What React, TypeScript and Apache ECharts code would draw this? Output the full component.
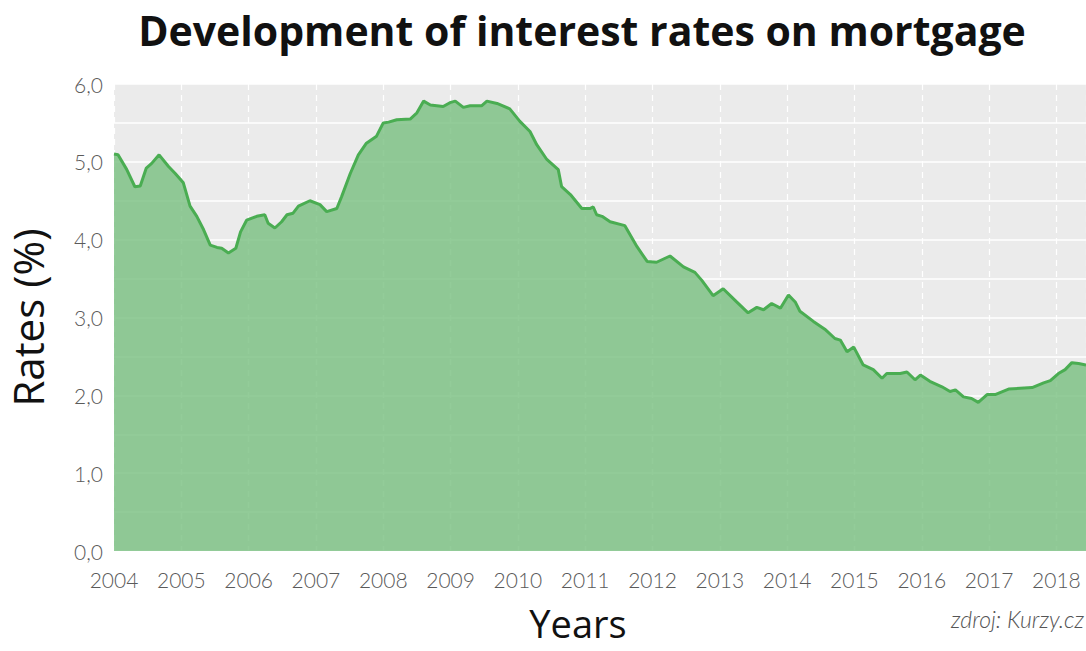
import React, { useEffect, useRef } from "react";
import * as echarts from "echarts";

// Vertices of the curve: decimal year and rate (%)
const years: number[] = [
  2004.0, 2004.06, 2004.19, 2004.31, 2004.39, 2004.48, 2004.56, 2004.67, 2004.81, 2004.91,
  2005.03, 2005.13, 2005.23, 2005.33, 2005.43, 2005.53, 2005.6, 2005.7, 2005.81, 2005.88,
  2005.97, 2006.12, 2006.24, 2006.29, 2006.39, 2006.49, 2006.57, 2006.66, 2006.74, 2006.91,
  2007.06, 2007.16, 2007.31, 2007.38, 2007.51, 2007.63, 2007.75, 2007.9, 2008.0, 2008.08,
  2008.2, 2008.4, 2008.5, 2008.6, 2008.7, 2008.89, 2008.99, 2009.07, 2009.19, 2009.29,
  2009.46, 2009.54, 2009.69, 2009.88, 2010.03, 2010.18, 2010.28, 2010.43, 2010.6, 2010.65,
  2010.78, 2010.95, 2011.07, 2011.12, 2011.17, 2011.25, 2011.37, 2011.59, 2011.77, 2011.92,
  2012.06, 2012.26, 2012.46, 2012.63, 2012.73, 2012.9, 2013.05, 2013.25, 2013.42, 2013.55,
  2013.65, 2013.77, 2013.9, 2014.02, 2014.12, 2014.19, 2014.39, 2014.56, 2014.71, 2014.79,
  2014.89, 2014.99, 2015.13, 2015.28, 2015.41, 2015.48, 2015.68, 2015.78, 2015.9, 2015.98,
  2016.12, 2016.3, 2016.42, 2016.5, 2016.62, 2016.74, 2016.84, 2016.97, 2017.09, 2017.29,
  2017.64, 2017.81, 2017.91, 2018.03, 2018.13, 2018.23, 2018.33, 2018.44,
];

const rates: number[] = [
  5.1, 5.09, 4.9, 4.68, 4.69, 4.92, 4.98, 5.09, 4.94, 4.85,
  4.73, 4.43, 4.3, 4.13, 3.93, 3.9, 3.89, 3.83, 3.89, 4.1,
  4.25, 4.3, 4.32, 4.21, 4.15, 4.23, 4.32, 4.34, 4.43, 4.5,
  4.45, 4.36, 4.4, 4.55, 4.85, 5.09, 5.24, 5.33, 5.5, 5.51,
  5.54, 5.55, 5.63, 5.78, 5.73, 5.71, 5.76, 5.78, 5.7, 5.72,
  5.72, 5.78, 5.75, 5.68, 5.52, 5.39, 5.22, 5.03, 4.9, 4.68,
  4.58, 4.4, 4.4, 4.42, 4.32, 4.3, 4.23, 4.18, 3.91, 3.72,
  3.71, 3.79, 3.65, 3.58, 3.48, 3.28, 3.37, 3.2, 3.06, 3.13,
  3.1, 3.18, 3.12, 3.29, 3.2, 3.08, 2.95, 2.85, 2.73, 2.71,
  2.56, 2.62, 2.39, 2.33, 2.22, 2.28, 2.28, 2.3, 2.2, 2.26,
  2.18, 2.11, 2.05, 2.07, 1.98, 1.96, 1.91, 2.01, 2.01, 2.08,
  2.1, 2.16, 2.19, 2.28, 2.33, 2.42, 2.41, 2.39,
];

const yTickLabels: string[] = ["0,0", "1,0", "2,0", "3,0", "4,0", "5,0", "6,0"];

const titleText = "Development of interest rates on mortgage";
const xName = "Years";
const yName = "Rates (%)";
const sourceText = "zdroj: Kurzy.cz";

export default function App() {
  const ref = useRef<HTMLDivElement>(null);

  useEffect(() => {
    if (!ref.current) return;
    const chart = echarts.init(ref.current, null, { renderer: "svg" });
    const data = years.map((y, i) => [y, rates[i]]);
    chart.setOption({
      animation: false,
      backgroundColor: "#ffffff",
      title: {
        text: titleText,
        top: 4,
        left: 577,
        textAlign: "center",
        textStyle: {
          fontFamily: "Open Sans",
          fontWeight: "bold",
          fontSize: 41,
          color: "#111111",
        },
      },
      grid: {
        left: 114,
        right: 0,
        top: 84,
        bottom: 100,
        outerBoundsMode: "none",
        containLabel: false,
        show: true,
        backgroundColor: "#ebebeb",
        borderWidth: 0,
      },
      xAxis: {
        type: "value",
        min: 2004,
        max: 2018.44,
        interval: 1,
        axisLine: { show: false },
        axisTick: { show: false },
        axisLabel: {
          color: "#5a5a5a",
          fontFamily: "Lato",
          fontWeight: 300,
          fontSize: 21,
          margin: 18,
          showMaxLabel: false,
          formatter: (v: number) => String(Math.round(v)),
        },
        splitLine: {
          show: true,
          lineStyle: { color: "#ffffff", width: 1.2, type: [6, 5] },
        },
      },
      yAxis: {
        type: "value",
        min: 0,
        max: 6,
        interval: 0.5,
        name: yName,
        nameLocation: "middle",
        nameGap: 66,
        nameTextStyle: { fontFamily: "Open Sans", fontSize: 42, color: "#111111" },
        axisLine: { show: false },
        axisTick: { show: false },
        axisLabel: {
          color: "#5a5a5a",
          fontFamily: "Lato",
          fontWeight: 300,
          fontSize: 21,
          margin: 11,
          formatter: (v: number) =>
            Number.isInteger(v) ? yTickLabels[v] : "",
        },
        splitLine: {
          show: true,
          lineStyle: { color: "#ffffff", width: 1.5 },
        },
      },
      graphic: [
        {
          type: "text",
          x: 578,
          y: 604,
          style: {
            text: xName,
            fontFamily: "Open Sans",
            fontSize: 38,
            fill: "#111111",
            textAlign: "center",
            textVerticalAlign: "top",
          },
        },
        {
          type: "text",
          x: 1084,
          y: 607,
          style: {
            text: sourceText,
            fontFamily: "Lato",
            fontStyle: "italic",
            fontWeight: 300,
            fontSize: 23,
            fill: "#555555",
            textAlign: "right",
            textVerticalAlign: "top",
          },
        },
      ],
      series: [
        {
          type: "line",
          data,
          showSymbol: false,
          smooth: false,
          lineStyle: { color: "#4aad52", width: 3 },
          areaStyle: { color: "rgb(120,191,128)", opacity: 0.8 },
          z: 2,
        },
      ],
    });
    return () => chart.dispose();
  }, []);

  return (
    <div
      ref={ref}
      style={{ position: "fixed", left: 0, top: 0, width: 1086, height: 651 }}
    />
  );
}
